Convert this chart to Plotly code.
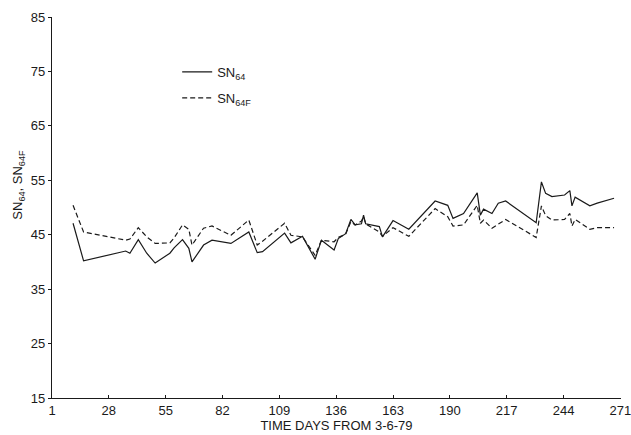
import plotly.graph_objects as go

days = [11, 16, 36, 38, 42, 46, 50, 57, 59, 63, 66, 67.5, 73, 77, 86, 94.5, 98.5, 101,
        111.5, 114.5, 120, 126, 129, 135, 137, 140.5, 143, 145, 148, 149, 150, 156.5,
        158, 163, 170.5, 183, 189, 191.5, 196.5, 203, 204.5, 206, 210, 213, 216.5,
        231, 233.5, 235.5, 238.5, 244.5, 247, 248, 249.5, 256.5, 260, 268]
sn64 = [47.1, 40.2, 42.0, 41.6, 44.1, 41.6, 39.8, 41.6, 42.6, 44.1, 42.5, 40.0, 43.1, 44.0,
        43.4, 45.5, 41.7, 41.9, 45.3, 43.5, 44.7, 40.5, 44.0, 42.2, 44.3, 45.2, 47.8, 46.8,
        47.0, 48.6, 47.0, 46.5, 44.6, 47.6, 46.0, 51.2, 50.4, 48.0, 48.9, 52.7, 48.6, 49.7,
        48.9, 50.8, 51.2, 47.2, 54.7, 52.6, 52.0, 52.3, 53.1, 50.3, 51.9, 50.3, 50.8, 51.7]
sn64f = [50.4, 45.5, 44.0, 44.2, 46.3, 44.6, 43.4, 43.5, 44.4, 46.8, 46.0, 43.1, 46.2, 46.6,
         44.9, 47.7, 43.1, 43.8, 47.1, 44.9, 44.6, 41.2, 44.0, 43.7, 44.5, 45.1, 47.4, 46.8,
         47.5, 48.3, 47.0, 45.5, 44.7, 46.3, 44.7, 49.8, 48.3, 46.6, 46.8, 50.4, 47.1, 47.7,
         46.2, 47.0, 47.8, 44.5, 50.3, 48.5, 47.7, 47.8, 48.9, 46.6, 47.8, 46.0, 46.3, 46.3]

x_ticks = [1, 28, 55, 82, 109, 136, 163, 190, 217, 244, 271]
y_ticks = [15, 25, 35, 45, 55, 65, 75, 85]

FONT = "Liberation Sans, Arial, Helvetica, sans-serif"
INK = "#1a1a1a"

fig = go.Figure()
fig.add_trace(go.Scatter(x=days, y=sn64, mode="lines", name="SN<sub>64</sub>",
                         line=dict(color=INK, width=1.2), legendgroup="a"))
fig.add_trace(go.Scatter(x=days, y=sn64f, mode="lines", name="SN<sub>64F</sub>",
                         line=dict(color=INK, width=1.2, dash="5px,3px"), legendgroup="b"))

fig.update_layout(
    width=631, height=435,
    margin=dict(l=52, r=10, t=17, b=37),
    paper_bgcolor="white", plot_bgcolor="white",
    font=dict(family=FONT, size=13, color=INK),
    showlegend=True,
    legend=dict(x=0.22, y=0.895, xanchor="left", yanchor="top",
                bgcolor="rgba(0,0,0,0)", font=dict(size=13), tracegroupgap=6),
    xaxis=dict(range=[1, 271.3], tickmode="array", tickvals=x_ticks,
               ticktext=[str(t) for t in x_ticks], ticklabeloverflow="allow",
               automargin=False,
               showgrid=False, zeroline=False, showline=True, linecolor=INK, linewidth=1.2,
               ticks="inside", ticklen=3, tickcolor=INK, tickfont=dict(size=13),
               title=dict(text="TIME DAYS FROM 3-6-79", font=dict(size=13), standoff=2)),
    yaxis=dict(range=[15, 85], tickmode="array", tickvals=y_ticks, automargin=False,
               showgrid=False, zeroline=False, showline=True, linecolor=INK, linewidth=1.2,
               ticks="outside", ticklen=3, tickcolor=INK, tickfont=dict(size=13)),
    annotations=[dict(text="SN<sub>64</sub>, SN<sub>64F</sub>", textangle=-90,
                      xref="paper", yref="paper", x=-0.058, y=0.56,
                      xanchor="center", yanchor="middle", showarrow=False,
                      font=dict(size=13, color=INK))],
)

fig.write_html("out.html")
